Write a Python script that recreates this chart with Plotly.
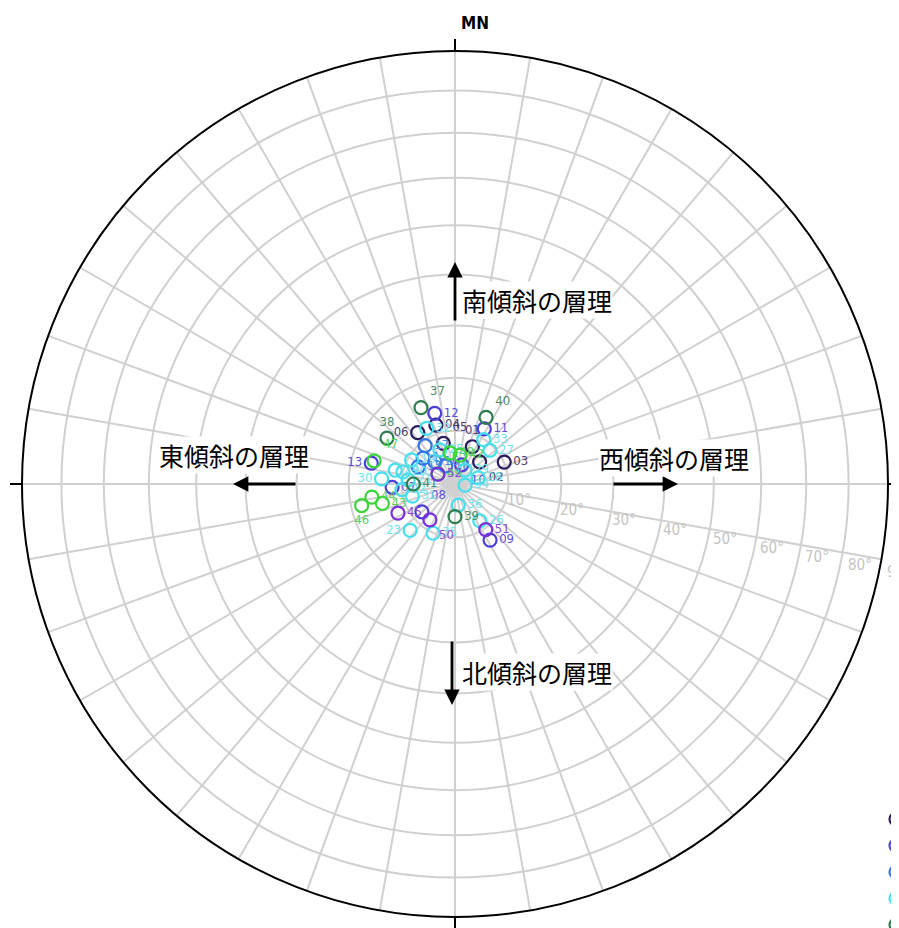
import math
import plotly.graph_objects as go

# ---------------- data (bedding: dip direction / dip, degrees) ----------------
G1_ID = ["01", "02", "03", "04", "05", "06"]
G1_DIPDIR = [205, 228, 246, 162, 164, 144]
G1_DIP = [7.7, 6.2, 10.1, 11.6, 7.9, 11.9]

G2_ID = ["07", "08", "09", "10", "11", "12", "13"]
G2_DIPDIR = [87, 50, 328, 199, 208, 164, 104]
G2_DIP = [11.8, 8.1, 12.4, 3.8, 11.7, 13.8, 16.2]

G3_ID = ["14", "15", "16", "17", "18"]
G3_DIPDIR = [129, 115, 138, 142, 153]
G3_DIP = [7.7, 7.6, 5.6, 9.1, 3.8]

G4_ID = ["19", "20", "21", "22", "23", "24", "25", "26", "27",
         "28", "29", "30", "31", "32", "33", "34", "35", "36"]
G4_DIPDIR = [119, 103, 95, 84, 44, 103, 156, 326, 226,
             255, 216, 94, 74, 153, 213, 276, 24, 351]
G4_DIP = [9.3, 10.0, 8.8, 10.0, 12.1, 11.5, 7.0, 8.3, 9.1,
          4.5, 3.2, 13.8, 8.3, 11.7, 9.9, 1.9, 10.1, 4.0]

G5_ID = ["37", "38", "39", "40", "41"]
G5_DIPDIR = [156, 124, 0, 205, 90]
G5_DIP = [15.7, 15.4, 6.1, 13.8, 7.8]

G6_ID = ["42", "43", "44", "46", "47", "48", "49"]
G6_DIPDIR = [190, 75, 81, 77, 106, 171, 121]
G6_DIP = [5.5, 14.1, 15.8, 18.0, 15.8, 5.9, 3.7]

G7_ID = ["45", "50", "51", "52"]
G7_DIPDIR = [63, 35, 326, 120]
G7_DIP = [12.0, 8.2, 10.3, 3.7]

RING_DIPS = [10, 20, 30, 40, 50, 60, 70, 80, 90]
RING_LABELS = ["10°", "20°", "30°", "40°", "50°", "60°", "70°", "80°", "90°"]

GROUP_NAMES = ["グループ1", "グループ2", "グループ3", "グループ4",
               "グループ5", "グループ6", "グループ7"]

# ---------------- styles ----------------
COLORS = ["#2b1b5e", "#4b3fd9", "#3375e6", "#45e0ec", "#2f7d4f", "#3bd43b", "#7a2fd9"]
LABEL_COLORS = ["#4a3d72", "#5a52d6", "#4a85e0", "#6fe2ee", "#4f8a66", "#5ccf5c", "#8a4bd8"]
LABEL_POS = {
    "06": "middle left", "13": "middle left", "23": "middle left", "30": "middle left",
    "46": "bottom center", "02": "bottom right", "10": "bottom right", "50": "bottom right",
    "01": "top center", "05": "top right", "37": "top right", "38": "top center",
    "40": "top right", "47": "top right", "08": "top right",
}
NARROW = "Liberation Sans Narrow, DejaVu Sans Condensed, Arial Narrow, sans-serif"
JP = "Noto Sans CJK JP, Noto Sans CJK SC, sans-serif"


def proj(dip):
    """Schmidt (equal-area) projection radius for a bedding dip."""
    return math.sqrt(2) * math.sin(math.radians(dip) / 2)


groups = [
    (G1_ID, G1_DIPDIR, G1_DIP),
    (G2_ID, G2_DIPDIR, G2_DIP),
    (G3_ID, G3_DIPDIR, G3_DIP),
    (G4_ID, G4_DIPDIR, G4_DIP),
    (G5_ID, G5_DIPDIR, G5_DIP),
    (G6_ID, G6_DIPDIR, G6_DIP),
    (G7_ID, G7_DIPDIR, G7_DIP),
]

fig = go.Figure()
for (ids, dd, dp), name, col, lcol in zip(groups, GROUP_NAMES, COLORS, LABEL_COLORS):
    fig.add_trace(go.Scatterpolar(
        r=[proj(d) for d in dp],
        theta=[(a + 180) % 360 for a in dd],   # pole of bedding
        mode="markers+text",
        text=ids,
        textposition=[LABEL_POS.get(i, "middle right") for i in ids],
        textfont=dict(family=NARROW, size=13, color=lcol),
        marker=dict(symbol="circle-open", size=13, color=col, line=dict(width=2.2, color=col)),
        name=name,
        cliponaxis=False,
    ))

# page body has an 8px margin; the figure is shifted to compensate
W, H = 899, 928
BODY = 8
ML, MT = 22 - BODY, 51 - BODY
PW = 866
MR, MB = W - ML - PW, H - MT - PW


def px(xp):
    """reference page x (pixels) -> paper x"""
    return (xp - 22) / PW


def py(yp):
    """reference page y (pixels) -> paper y"""
    return (51 + PW - yp) / PW


fig.update_layout(
    width=W, height=H,
    margin=dict(l=ML, r=MR, t=MT, b=MB, autoexpand=False),
    paper_bgcolor="white",
    showlegend=True,
    legend=dict(x=px(876), y=py(801), xanchor="left", yanchor="top",
                font=dict(size=18, family=NARROW, color="#333"), bgcolor="rgba(0,0,0,0)"),
    polar=dict(
        domain=dict(x=[0, 1], y=[0, 1]),
        bgcolor="white",
        angularaxis=dict(rotation=90, direction="clockwise", tickmode="linear",
                         tick0=0, dtick=10, showgrid=True, gridcolor="#d0d0d0", gridwidth=1.7,
                         showline=True, linecolor="black", linewidth=2,
                         showticklabels=False, ticks=""),
        radialaxis=dict(range=[0, 1], tickmode="array",
                        tickvals=[proj(d) for d in RING_DIPS[:-1]],
                        showgrid=True, gridcolor="#d0d0d0", gridwidth=1.8,
                        showline=False, showticklabels=False, ticks=""),
    ),
)

# ring labels along a line slightly below the east axis
for d, lab in zip(RING_DIPS, RING_LABELS):
    rp = proj(d) * 0.5  # paper units (net radius = 0.5 paper)
    rpx = proj(d) * PW / 2
    fig.add_annotation(xref="paper", yref="paper",
                       x=0.5 + rp - 3 / PW, y=0.5 - (6 + 0.19 * rpx) / PW,
                       text=lab, showarrow=False, xanchor="left", yanchor="middle",
                       font=dict(family=NARROW, size=15, color="#c4c4c4"))

# compass ticks outside the net
tick = 12 / PW
for x0, y0, x1, y1 in [(-tick, 0.5, 0, 0.5), (1, 0.5, 1 + tick, 0.5),
                       (0.5, 1, 0.5, 1 + tick), (0.5, 0, 0.5, -tick)]:
    fig.add_shape(type="line", xref="paper", yref="paper", x0=x0, y0=y0, x1=x1, y1=y1,
                  line=dict(color="black", width=2))

fig.add_annotation(xref="paper", yref="paper", x=0.5 + 4 / PW, y=py(23),
                   text="<b>MN</b>", showarrow=False, xanchor="left", yanchor="middle",
                   font=dict(family=NARROW, size=17, color="black"))

arrows = [
    # head x, head y (reference pixels), tail offset ax, ay
    (455, 262, 0, 60),
    (233, 484, 64, 0),
    (678, 484, -66, 0),
    (452, 705, 0, -65),
]
for hx, hy, ax, ay in arrows:
    fig.add_annotation(xref="paper", yref="paper", x=px(hx), y=py(hy), ax=ax, ay=ay,
                       text="", showarrow=True, arrowhead=2, arrowsize=1.1,
                       arrowwidth=2.8, arrowcolor="black")

labels = [
    ("南傾斜の層理", 461, 300, "left"),
    ("東傾斜の層理", 234, 455, "center"),
    ("西傾斜の層理", 674, 458, "center"),
    ("北傾斜の層理", 461, 672, "left"),
]
for t, lx, ly, anc in labels:
    fig.add_annotation(xref="paper", yref="paper", x=px(lx), y=py(ly), text=t,
                       showarrow=False, xanchor=anc, yanchor="middle", bgcolor="white",
                       borderpad=0, font=dict(family=JP, size=25, color="black"))

fig.write_html("out.html")
